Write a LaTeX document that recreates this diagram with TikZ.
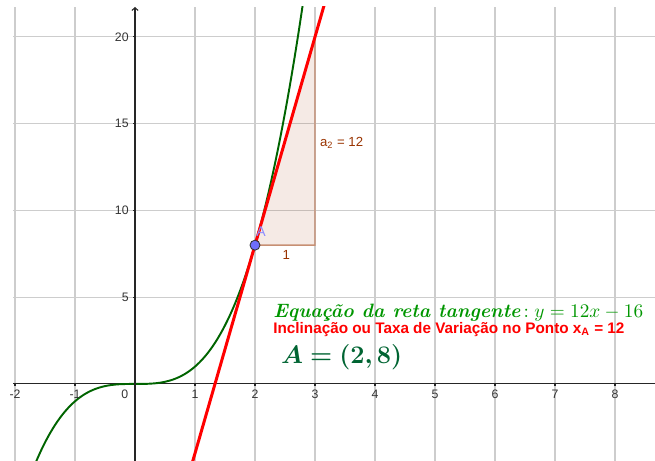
\documentclass[tikz,border=0pt]{standalone}
\usepackage{amsmath}
\usepackage{bm}
\usepackage{fontspec}
\newfontfamily\ggbfont{Liberation Sans}
\usetikzlibrary{arrows.meta}
\definecolor{ggbgrid}{RGB}{205,205,205}
\definecolor{ggbcurve}{RGB}{0,100,0}
\definecolor{ggbtext}{RGB}{0,150,0}
\definecolor{ggbpoint}{RGB}{0,100,50}
\definecolor{ggbbrown}{RGB}{153,51,0}
\definecolor{ggbblue}{RGB}{110,110,250}
\definecolor{ggblabel}{RGB}{140,140,255}

\begin{document}
\begin{tikzpicture}[x=1.2cm,y=0.347cm,
  gridline/.style={draw=ggbgrid,line width=0.6pt},
  axisline/.style={draw=black!85,line width=0.6pt},
  ticklbl/.style={font=\ggbfont\fontsize{7}{8}\selectfont,text=black!80,inner sep=0pt},
  brownlbl/.style={font=\ggbfont\fontsize{7.5}{9}\selectfont,text=ggbbrown,inner sep=0pt},
  eqnlbl/.style={anchor=west,inner sep=0pt,text=ggbtext,font=\fontsize{11}{13}\selectfont},
  incllbl/.style={anchor=west,inner sep=0pt,text=red,font=\ggbfont\bfseries\fontsize{8.7}{10}\selectfont},
  ptlbl/.style={anchor=west,inner sep=0pt,text=ggbpoint,font=\fontsize{14.5}{17}\selectfont},
]
  \useasboundingbox (-2.25,-4.44) rectangle (8.667,22.13);
  \begin{scope}
    \clip (-2.033,-4.44) rectangle (8.667,21.73);
    % grid
    \foreach \x in {-2,-1,1,2,...,8}
      \draw[gridline] (\x,-4.44) -- (\x,21.73);
    \foreach \y in {5,10,15,20}
      \draw[gridline] (-2.033,\y) -- (8.667,\y);
    % triangulo da inclinacao
    \filldraw[fill=ggbbrown,fill opacity=0.1,draw=ggbbrown!55,line width=0.8pt]
      (2,8) -- (3,8) -- (3,20) -- cycle;
    \draw[axisline] (-2.033,0) -- (8.667,0);
    \foreach \x in {-2,-1,1,2,...,8}
      \draw[axisline] (\x,0) -- (\x,-0.12);
    \foreach \y in {5,10,15,20}
      \draw[axisline] (0,\y) -- (-0.035,\y);
    % f(x) = x^3 e a reta tangente
    \draw[ggbcurve,line width=1.1pt,domain=-1.75:2.85,samples=120]
      plot (\x,{\x*\x*\x});
    \draw[red,line width=1.7pt] (0.9,-5.2) -- (3.2,22.4);
  \end{scope}
  \draw[axisline,-{Straight Barb[length=1.6pt,width=3.5pt]}] (0,-4.44) -- (0,21.73);
  \foreach \x in {-2,-1,1,2,...,8}
    \node[ticklbl] (lblx\x) at (\x,-0.58) {\x};
  \node[ticklbl] (lblx0) at (-0.17,-0.58) {0};
  \foreach \y in {5,10,15,20}
    \node[ticklbl,anchor=east] (lbly\y) at (-0.1,\y) {\y};
  \node[brownlbl] (lblone) at (2.52,7.45) {1};
  \node[brownlbl,anchor=west] (lblslope) at (3.08,13.9) {a\textsubscript{2} = 12};
  \node[circle,fill=ggbblue,draw=black!80,line width=0.5pt,minimum size=0.2cm,inner sep=0pt] (ptA) at (2,8) {};
  \node[font=\ggbfont\fontsize{8}{9}\selectfont,text=ggblabel,inner sep=0pt] (lblA) at (2.1,8.75) {A};
  \node[eqnlbl] (eqn) at (2.3,4.09) {{\bfseries\itshape\addfontfeature{LetterSpace=6}Equação da reta tangente}$\,{:}\;y=12x-16$};
  \node[incllbl] (incl) at (2.3,3.11) {Inclinação ou Taxa de Variação no Ponto x\textsubscript{A} = 12};
  \node[ptlbl] (coordA) at (2.43,1.56) {$\bm{A=(2,8)}$};
\end{tikzpicture}
\end{document}
